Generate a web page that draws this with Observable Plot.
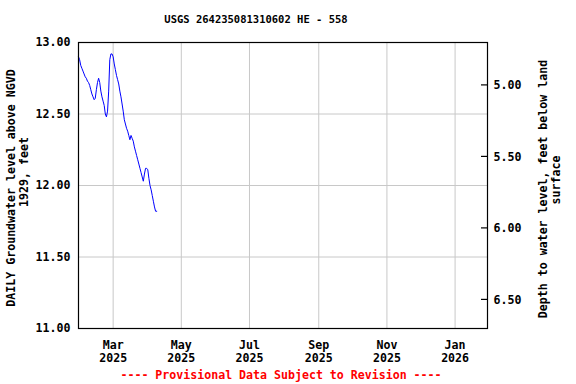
<!DOCTYPE html>
<html>
<head>
<meta charset="utf-8">
<script src="https://cdn.jsdelivr.net/npm/d3@7"></script>
<script src="https://cdn.jsdelivr.net/npm/@observablehq/plot@0.6"></script>
<style>
  html, body { margin: 0; padding: 0; background: #fff; }
  #chart { width: 576px; height: 384px; }
</style>
</head>
<body>
<div id="chart"></div>
<script>
const title = "USGS 264235081310602 HE - 558";
const caption = "---- Provisional Data Subject to Revision ----";
const leftLabel = ["DAILY Groundwater level above NGVD", "1929, feet"];
const rightLabel = ["Depth to water level, feet below land", "surface"];

const startDate = "2025-01-29";
const levels = [
  12.90, 12.88, 12.84, 12.82, 12.80, 12.78, 12.76, 12.75, 12.73, 12.72,
  12.70, 12.67, 12.64, 12.62, 12.60, 12.61, 12.67, 12.72, 12.75, 12.72,
  12.66, 12.62, 12.59, 12.56, 12.50, 12.48, 12.52, 12.66, 12.88, 12.92,
  12.92, 12.90, 12.85, 12.81, 12.77, 12.74, 12.71, 12.66, 12.62, 12.57,
  12.52, 12.46, 12.43, 12.40, 12.38, 12.35, 12.32, 12.35, 12.33, 12.31,
  12.27, 12.24, 12.21, 12.18, 12.15, 12.12, 12.09, 12.06, 12.03, 12.08,
  12.12, 12.12, 12.11, 12.05, 12.00, 11.97, 11.93, 11.89, 11.85, 11.82,
  11.82
];
const leftTicks = [11.0, 11.5, 12.0, 12.5, 13.0];
const rightTicks = [5.0, 5.5, 6.0, 6.5];
const landSurface = 17.70;
const xTicks = ["2025-03-01", "2025-05-01", "2025-07-01", "2025-09-01", "2025-11-01", "2026-01-01"];
const xDomain = ["2025-01-29", "2026-01-30"];
const monthNames = ["Jan","Feb","Mar","Apr","May","Jun","Jul","Aug","Sep","Oct","Nov","Dec"];

const t0 = new Date(startDate + "T00:00:00Z");
const data = levels.map((v, i) => ({
  date: new Date(t0.getTime() + i * 86400000),
  level: v
}));
const xt = xTicks.map(s => new Date(s + "T00:00:00Z"));
const rightPos = rightTicks.map(d => landSurface - d);

const font = "'DejaVu Sans Mono', monospace";
const W = 576, H = 384, mL = 78, mR = 89, mT = 42, mB = 56;

const chart = Plot.plot({
  width: W,
  height: H,
  marginLeft: mL,
  marginRight: mR,
  marginTop: mT,
  marginBottom: mB,
  style: { fontFamily: font, fontSize: "11.6px", fontWeight: "bold", background: "#fff", color: "#000" },
  x: { type: "utc", domain: xDomain.map(s => new Date(s + "T00:00:00Z")) },
  y: { domain: [11, 13] },
  marks: [
    Plot.gridX(xt, { stroke: "#c8c8c8", strokeOpacity: 1, strokeWidth: 1 }),
    Plot.gridY(leftTicks.slice(1, -1), { stroke: "#c8c8c8", strokeOpacity: 1, strokeWidth: 1 }),
    Plot.lineY(data, { x: "date", y: "level", stroke: "#0000ff", strokeWidth: 1 }),
    Plot.frame({ stroke: "#000", strokeWidth: 1.2 }),
    Plot.axisY(leftTicks, {
      anchor: "left", tickSize: 0, tickPadding: 8,
      tickFormat: d => d.toFixed(2), label: null
    }),
    Plot.axisY(rightPos, {
      anchor: "right", tickSize: 0, tickPadding: 6,
      tickFormat: d => (landSurface - d).toFixed(2), label: null
    }),
    Plot.axisX(xt, {
      anchor: "bottom", tickSize: 0, tickPadding: 11, lineHeight: 1.15,
      tickFormat: d => monthNames[d.getUTCMonth()] + "\n" + d.getUTCFullYear(),
      label: null
    })
  ]
});

const svg = d3.select(chart);
const yScale = chart.scale("y");
rightPos.forEach(v => {
  const py = yScale.apply(v);
  svg.append("line").attr("x1", W - mR - 6).attr("x2", W - mR).attr("y1", py).attr("y2", py)
    .attr("stroke", "#000").attr("stroke-width", 1.2);
});
svg.append("text").attr("x", 256).attr("y", 20).attr("text-anchor", "middle")
  .attr("dominant-baseline", "middle").attr("font-size", 10.5).attr("fill", "#000").text(title);
svg.append("text").attr("x", 281).attr("y", 375).attr("text-anchor", "middle")
  .attr("dominant-baseline", "middle").attr("font-size", 11.6).attr("fill", "#ff0000").text(caption);
svg.append("text").attr("transform", "translate(11,188) rotate(-90)").attr("text-anchor", "middle")
  .attr("dominant-baseline", "middle").attr("fill", "#000").text(leftLabel[0]);
svg.append("text").attr("transform", "translate(24,172) rotate(-90)").attr("text-anchor", "middle")
  .attr("dominant-baseline", "middle").attr("fill", "#000").text(leftLabel[1]);
svg.append("text").attr("transform", "translate(543,189) rotate(-90)").attr("text-anchor", "middle")
  .attr("dominant-baseline", "middle").attr("fill", "#000").text(rightLabel[0]);
svg.append("text").attr("transform", "translate(556,180) rotate(-90)").attr("text-anchor", "middle")
  .attr("dominant-baseline", "middle").attr("fill", "#000").text(rightLabel[1]);

document.getElementById("chart").appendChild(chart);
</script>
</body>
</html>
